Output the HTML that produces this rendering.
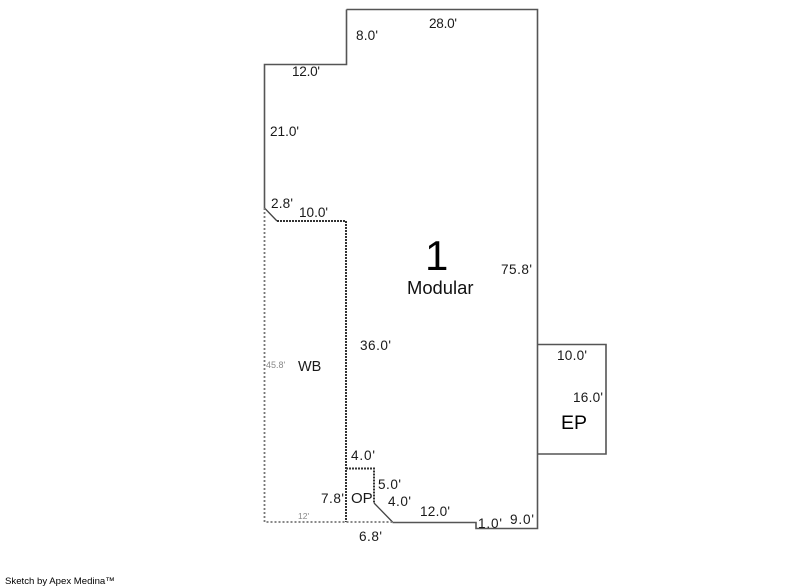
<!DOCTYPE html>
<html>
<head>
<meta charset="utf-8">
<style>
html,body{margin:0;padding:0;background:#fff;width:800px;height:587px;overflow:hidden}
svg{display:block}
text{font-family:"Liberation Sans",sans-serif;font-size:13.6px;fill:#1a1a1a}
</style>
</head>
<body>
<svg width="800" height="587" viewBox="0 0 800 587" xmlns="http://www.w3.org/2000/svg">
<g fill="none" stroke="#555" stroke-width="1.6" stroke-linejoin="miter">
<path d="M346.5 9.5H537.5V528.5H476V522.5H392.5"/>
<path d="M346.5 9.5V64.5H264.5V208"/>
<path d="M537.5 344.5H606V454H537.5"/>
</g>
<g fill="none" stroke="#444" stroke-width="1.3">
<path d="M264.5 208L277 221"/>
<path d="M374 503L392.5 522"/>
</g>
<g fill="none" stroke="#333" stroke-width="2">
<path d="M277 221H346V522" stroke-dasharray="2 1"/>
<path d="M346 468.5H374V503" stroke-dasharray="2 1"/>
</g>
<g fill="none" stroke="#777" stroke-width="1.8" stroke-dasharray="2 2">
<path d="M264.5 208V522H392"/>
</g>
<text x="429" y="28" textLength="28">28.0'</text>
<text x="356" y="40" textLength="22">8.0'</text>
<text x="292" y="76" textLength="28">12.0'</text>
<text x="270" y="136" textLength="29">21.0'</text>
<text x="271" y="208" textLength="22">2.8'</text>
<text x="299" y="217" textLength="29">10.0'</text>
<text x="501" y="274" textLength="31">75.8'</text>
<text x="360" y="350" textLength="31">36.0'</text>
<text x="298" y="371" style="font-size:14.5px">WB</text>
<text x="266" y="368" style="font-size:9px;fill:#888">45.8'</text>
<text x="557" y="360" textLength="30">10.0'</text>
<text x="573" y="402" textLength="30">16.0'</text>
<text x="561" y="429" style="font-size:19.5px;fill:#000">EP</text>
<text x="351" y="460" textLength="24">4.0'</text>
<text x="378" y="489" textLength="23">5.0'</text>
<text x="388" y="506" textLength="23">4.0'</text>
<text x="321" y="503" textLength="23">7.8'</text>
<text x="351" y="503" style="font-size:15px">OP</text>
<text x="420" y="516" textLength="30">12.0'</text>
<text x="298" y="519" style="font-size:8.5px;fill:#888">12'</text>
<text x="478" y="528" textLength="24">1.0'</text>
<text x="510" y="524" textLength="24">9.0'</text>
<text x="359" y="541" textLength="23">6.8'</text>
<text x="425" y="270" style="font-size:42px;fill:#000">1</text>
<text x="407" y="294" style="font-size:18.4px;fill:#111">Modular</text>
<text x="5" y="584" style="font-size:9.6px;fill:#000">Sketch by Apex Medina™</text>
</svg>
</body>
</html>
